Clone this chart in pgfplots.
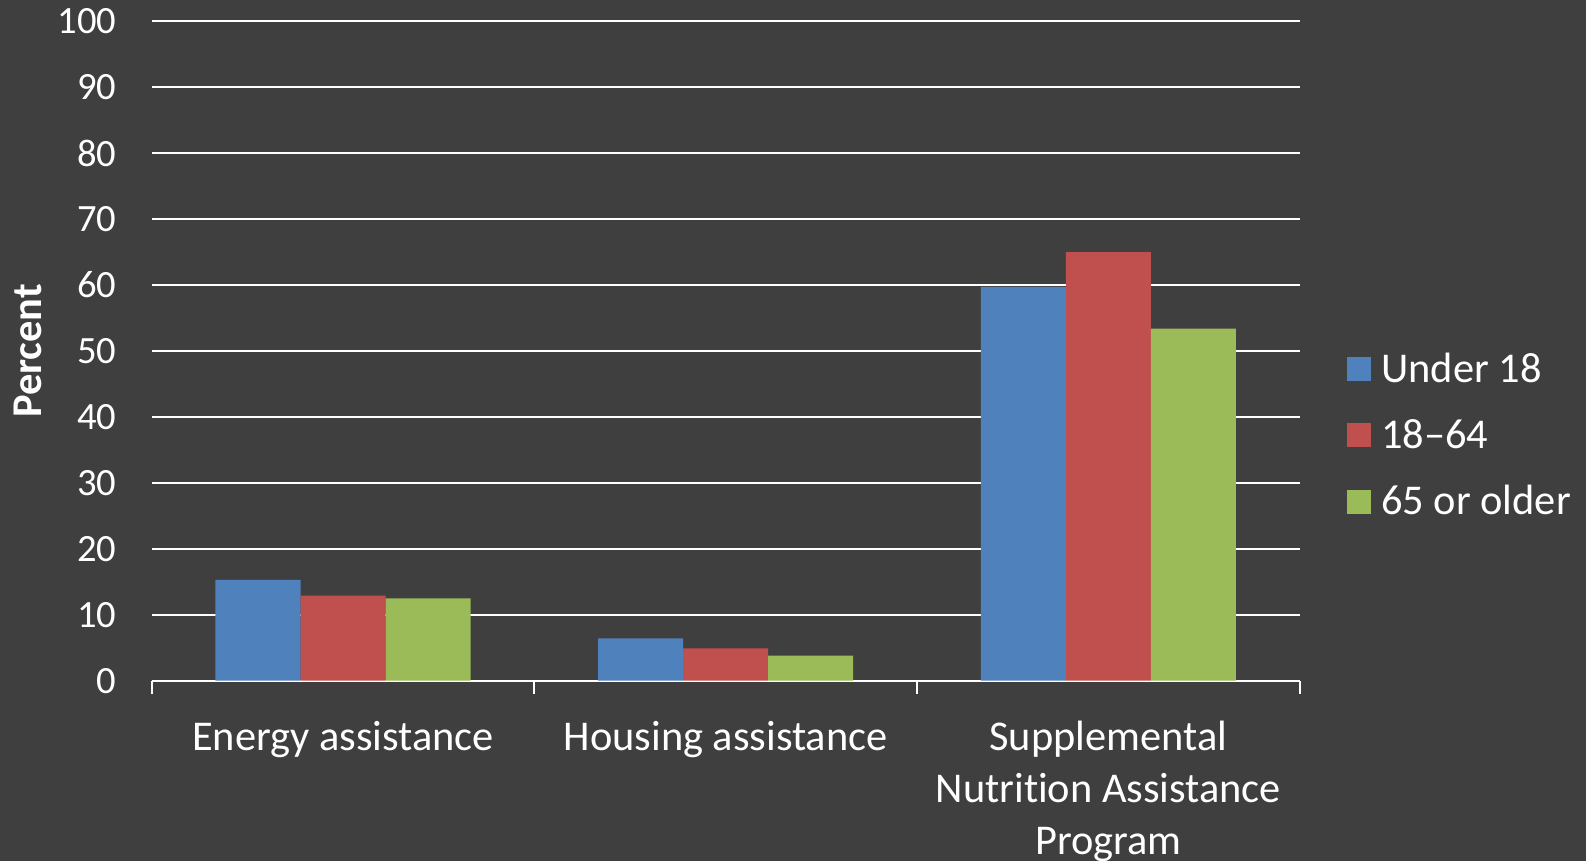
\documentclass[border=0pt]{standalone}
\usepackage{fontspec}
\setmainfont{Carlito}[Ligatures={NoCommon}]
\usepackage{pgfplots}
\pgfplotsset{compat=1.18}

\definecolor{bgcol}{HTML}{3F3F3F}
\definecolor{cblue}{HTML}{4F81BD}
\definecolor{cred}{HTML}{C0504D}
\definecolor{cgreen}{HTML}{9BBB59}

\begin{document}
\begin{tikzpicture}
% background, also the picture's bounding box
\path[use as bounding box, fill=bgcol] (-75.85pt,-90.15pt) rectangle (717.15pt,340.35pt);
\begin{axis}[
    at={(0,0)}, anchor=south west,
    scale only axis,
    width=574pt, height=329.75pt,
    font=\fontsize{19.3}{26}\selectfont,
    /pgf/number format/assume math mode=true,
    xmin=-0.5, xmax=2.5,
    ymin=0, ymax=100,
    ytick={0,10,...,100},
    xtick={0,1,2},
    xticklabels={Energy assistance, Housing assistance, {Supplemental\\Nutrition Assistance\\Program}},
    xticklabel style={align=center, anchor=north, inner sep=0pt, yshift=-20pt,
        font=\fontsize{21.2}{26}\selectfont},
    yticklabel style={anchor=east, inner sep=0pt, xshift=-17.5pt},
    tick label style={text=white},
    major tick length=0pt,
    extra x ticks={-0.5,0.5,1.5,2.5},
    extra x tick labels={},
    extra x tick style={major tick length=6.5pt, tick align=outside,
        tick style={draw=white, line width=1pt}, grid=none},
    axis x line*=bottom,
    axis y line*=left,
    x axis line style={draw=white, line width=1pt},
    y axis line style={draw=none},
    ytick style={draw=none},
    ymajorgrids,
    major grid style={draw=white, line width=1pt},
    ylabel={Percent},
    ylabel style={at={(axis description cs:-0.1075,0.5)}, anchor=center,
        font=\fontsize{21.2}{26}\selectfont\bfseries, text=white},
    bar width=0.2222,
    legend style={at={(axis description cs:1,0.372)}, anchor=west, xshift=23.6pt,
        draw=none, fill=none, text=white, inner sep=0pt,
        row sep=13pt, font=\fontsize{21.2}{24}\selectfont,
        /tikz/every odd column/.append style={column sep=3pt}},
    legend cell align=left,
    legend image code/.code={\fill[#1] (0pt,-6pt) rectangle (12pt,6pt);},
]
\addplot[ybar, fill=cblue, draw=none, bar shift=-0.2222] coordinates {(0,15.3) (1,6.4) (2,59.7)};
\addplot[ybar, fill=cred, draw=none, bar shift=0] coordinates {(0,12.9) (1,4.9) (2,65.0)};
\addplot[ybar, fill=cgreen, draw=none, bar shift=0.2222] coordinates {(0,12.5) (1,3.8) (2,53.4)};
\legend{Under 18, 18--64, 65 or older}
\end{axis}
\end{tikzpicture}
\end{document}
